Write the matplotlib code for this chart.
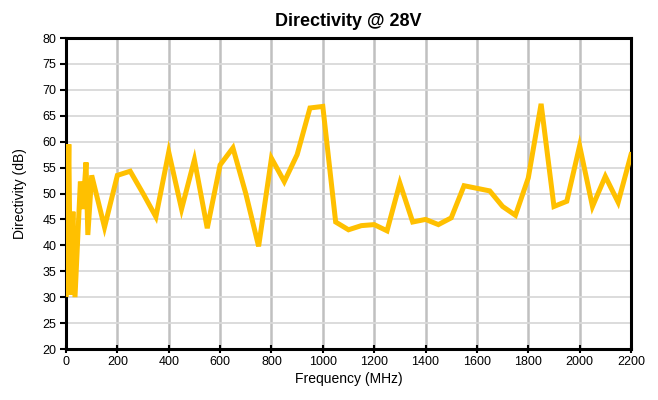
import matplotlib
matplotlib.use("Agg")
import matplotlib.pyplot as plt

freq = [1, 11, 17, 27, 35, 56, 66, 78, 85, 100, 150, 200, 250, 300, 350, 400, 450, 500, 550,
        600, 650, 700, 750, 800, 850, 900, 950, 1000, 1050, 1100, 1150, 1200, 1250,
        1300, 1350, 1400, 1450, 1500, 1550, 1600, 1650, 1700, 1750, 1800, 1850,
        1900, 1950, 2000, 2050, 2100, 2150, 2200]
directivity = [30.5, 59.5, 30.5, 46.5, 30.0, 52.3, 47.0, 56.0, 42.0, 53.5, 43.5, 53.5, 54.3, 50.0,
               45.5, 58.0, 47.0, 56.5, 43.3, 55.5, 58.8, 50.0, 39.8, 56.8, 52.3, 57.5,
               66.5, 66.8, 44.5, 43.0, 43.8, 44.0, 42.8, 52.0, 44.5, 45.0, 44.0, 45.3,
               51.5, 51.0, 50.5, 47.5, 45.8, 53.0, 67.3, 47.5, 48.5, 59.2, 47.5, 53.3,
               48.3, 57.5]
xticks = list(range(0, 2201, 200))
yticks = list(range(20, 81, 5))

plt.rcParams['font.family'] = ['Liberation Sans', 'DejaVu Sans']
fig = plt.figure(figsize=(6.58, 4.0), dpi=100)
ax = fig.add_axes([66/658, 1-349/400, (631-66)/658, (349-38)/400])

ax.plot(freq, directivity, color='#FFC000', lw=3.6, solid_joinstyle='miter', zorder=3)
ax.set_xlim(0, 2200)
ax.set_ylim(20, 80)
ax.set_xticks(xticks)
ax.set_yticks(yticks)
ax.grid(axis='x', color='#c0c0c0', lw=1.8, zorder=0)
ax.grid(axis='y', color='#d9d9d9', lw=1.3, zorder=0)
ax.set_axisbelow(True)
for s in ax.spines.values():
    s.set_linewidth(2.2)
    s.set_color('black')
ax.tick_params(axis='y', direction='out', length=4, width=1.5, labelsize=9, pad=3)
ax.tick_params(axis='x', direction='inout', length=6, width=1.5, labelsize=9, pad=2)
ax.set_xlabel('Frequency (MHz)', fontsize=10, labelpad=3)
ax.set_ylabel('Directivity (dB)', fontsize=10, labelpad=11)
ax.set_title('Directivity @ 28V', fontsize=13, fontweight='bold', pad=9)

fig.savefig('out.png', dpi=100)
